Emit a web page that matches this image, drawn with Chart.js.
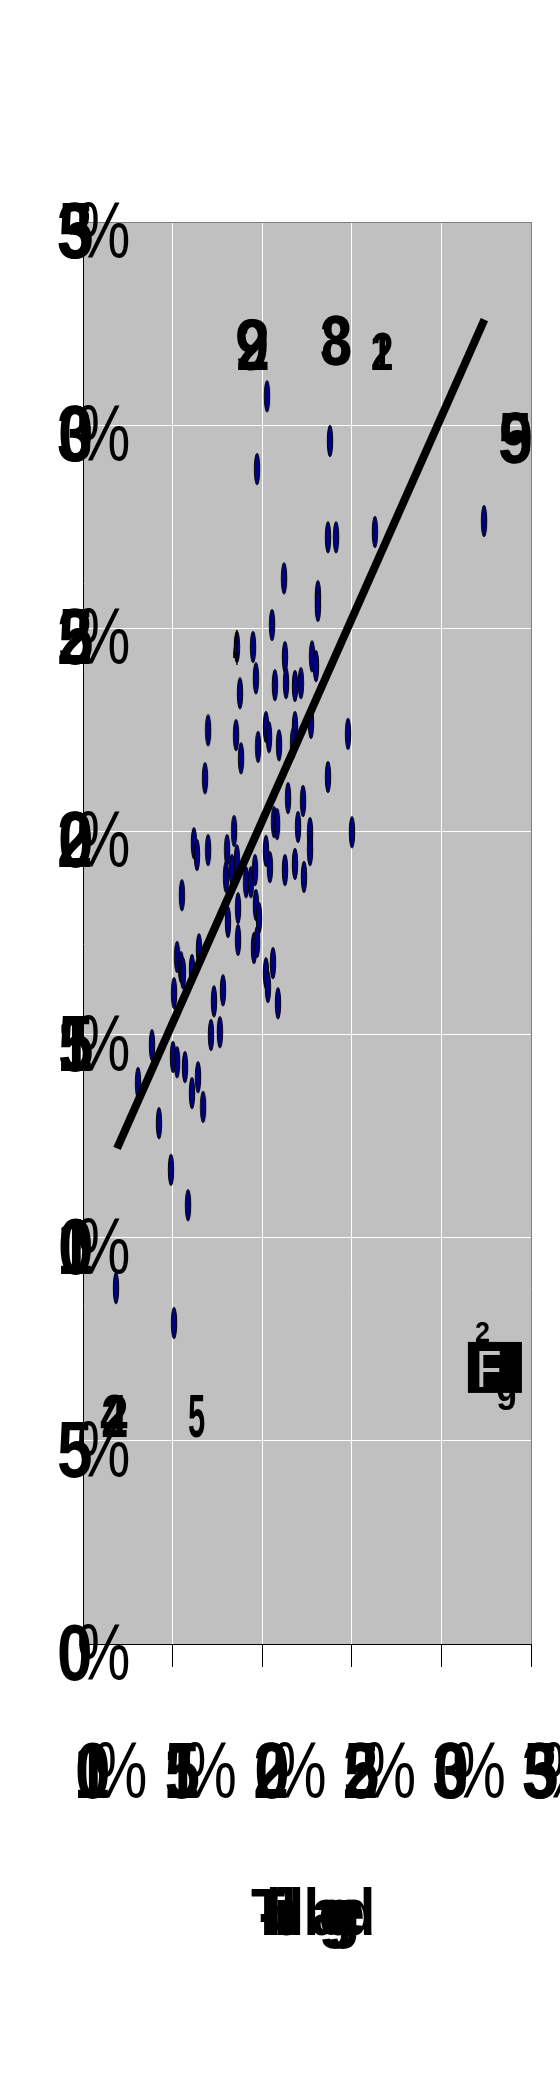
<!DOCTYPE html>
<html>
<head>
<meta charset="utf-8">
<script src="https://cdn.jsdelivr.net/npm/chart.js@4.4.1/dist/chart.umd.min.js"></script>
<style>
  body { margin: 0; background: #fff; }
  canvas { display: block; }
</style>
</head>
<body>
<canvas id="chart" width="560" height="2100" style="width:560px;height:2100px"></canvas>
<script>
// tick labels
const xTicks = ['10%', '15%', '20%', '25%', '30%', '35%'];
const yTicks = ['0%', '5%', '10%', '15%', '20%', '25%', '30%', '35%'];
const xTitle = 'T-bill lagged';

// scatter points (x %, y %)
const xVals = [20.27, 19.71, 23.78, 23.67, 24.12, 26.29, 32.38, 21.22, 20.55, 19.49,
  18.59, 21.27, 19.65, 20.71, 21.33, 18.76, 16.98, 20.21, 18.54, 20.38,
  20.94, 21.83, 21.72, 19.77, 18.82, 16.81, 21.44, 20.66, 20.83, 22.00,
  16.19, 16.36, 16.98, 18.43, 18.04, 17.98, 18.31, 18.59, 19.10, 19.37,
  19.60, 20.21, 20.43, 21.27, 21.83, 22.33, 22.67, 22.67, 25.01, 15.52,
  18.09, 18.65, 18.65, 19.65, 19.82, 19.54, 19.71, 15.25, 15.47, 15.58,
  16.08, 16.47, 15.08, 17.81, 17.31, 20.21, 20.32, 20.60, 20.88, 17.14,
  17.64, 13.85, 15.02, 15.25, 15.69, 16.42, 16.08, 16.70, 13.07, 14.24,
  14.91, 15.86, 11.84, 15.08, 23.11, 23.11, 22.78, 23.00, 21.83, 22.16,
  22.72, 23.67, 24.79, 22.28];
const yVals = [30.71, 28.92, 29.61, 27.24, 27.24, 27.37, 27.64, 26.23, 25.08, 24.54,
  24.54, 24.29, 23.77, 23.60, 23.65, 23.40, 22.49, 22.57, 22.37, 22.32,
  22.12, 22.57, 22.17, 22.08, 21.80, 21.31, 20.82, 20.23, 20.18, 20.11,
  19.71, 19.42, 19.54, 20.01, 19.54, 18.88, 19.05, 19.29, 18.75, 18.75,
  19.05, 19.52, 19.12, 19.05, 19.20, 18.88, 19.96, 19.54, 19.98, 18.43,
  17.77, 18.11, 17.33, 18.19, 17.87, 17.13, 17.28, 16.91, 16.66, 16.51,
  16.59, 17.10, 16.02, 16.09, 15.82, 16.51, 16.17, 16.76, 15.77, 14.99,
  15.06, 14.74, 14.45, 14.32, 14.20, 13.95, 13.56, 13.22, 13.81, 12.82,
  11.67, 10.80, 8.76, 7.90, 25.79, 25.55, 24.31, 24.07, 23.58, 23.65,
  22.67, 21.34, 22.40, 20.75];

// fitted line end points
const fitX = [11.9, 32.4];
const fitY = [12.2, 32.6];

// point labels (left edge / baseline, in data units)
const labelText = ['92', '38', '12', '59', '4', '42', '5', '2', 'Fg'];
const labelX = [18.48, 23.23, 26.02, 33.16, 18.37, 10.95, 15.86, 31.88, 31.48];
const labelY = [31.36, 31.48, 31.36, 29.07, 24.10, 5.09, 5.09, 7.43, 6.18];
const labelSize = [72, 70, 54, 72, 50, 62, 62, 30, 62];
const labelSx = [0.85, 0.8, 0.75, 0.85, 0.2, 0.8, 0.5, 0.9, 0.8];

const points = xVals.map((x, i) => ({x: x, y: yVals[i]}));
const fitLine = fitX.map((x, i) => ({x: x, y: fitY[i]}));

// small upright ellipse used as marker
const marker = document.createElement('canvas');
marker.width = 8;
marker.height = 34;
{
  const m = marker.getContext('2d');
  m.beginPath();
  m.ellipse(4, 17, 2.7, 15.8, 0, 0, Math.PI * 2);
  m.fillStyle = '#000080';
  m.fill();
  m.lineWidth = 1;
  m.strokeStyle = '#000';
  m.stroke();
}

const FONT = '"Liberation Sans", Arial, sans-serif';

function stackText(ctx, text, x, y, size, step, sx, weight) {
  ctx.font = (weight || 'normal') + ' ' + size + 'px ' + FONT;
  ctx.textAlign = 'left';
  ctx.textBaseline = 'alphabetic';
  for (let i = 0; i < text.length; i++) {
    ctx.save();
    ctx.translate(x + i * step, y);
    ctx.scale(sx, 1);
    ctx.fillText(text[i], 0, 0);
    ctx.restore();
  }
}

function tickText(ctx, label, x, y) {
  stackText(ctx, label.replace('%', ''), x, y, 80, 1, 0.8, 'bold');
  stackText(ctx, '%', x + 20, y, 80, 0, 0.75);
}

const framePlugin = {
  id: 'frame',
  beforeDraw(chart) {
    const {ctx, chartArea: a} = chart;
    ctx.save();
    ctx.fillStyle = '#c0c0c0';
    ctx.fillRect(a.left, a.top, a.right - a.left, a.bottom - a.top);
    ctx.restore();
  },
  afterDatasetsDraw(chart) {
    const {ctx, chartArea: a, scales} = chart;
    ctx.save();
    ctx.beginPath();
    ctx.rect(a.left, a.top, a.right - a.left, a.bottom - a.top);
    ctx.clip();
    ctx.fillStyle = '#000';
    labelText.forEach((t, i) => {
      const px = scales.x.getPixelForValue(labelX[i]);
      const py = scales.y.getPixelForValue(labelY[i]);
      if (t === 'Fg') {
        ctx.fillStyle = '#000';
        ctx.fillRect(px, py - 51, 54, 51);
        ctx.fillStyle = '#c0c0c0';
        stackText(ctx, 'F', px + 8, py - 6, 52, 0, 0.8);
        ctx.fillStyle = '#000';
        stackText(ctx, 'g', px + 28, py + 8, 44, 0, 0.8, 'bold');
        return;
      }
      stackText(ctx, t, px, py, labelSize[i], 1, labelSx[i], 'bold');
    });
    ctx.restore();
  },
  afterDraw(chart) {
    const {ctx, chartArea: a, scales} = chart;
    ctx.save();
    // plot frame
    ctx.lineWidth = 1;
    ctx.strokeStyle = '#808080';
    ctx.beginPath();
    ctx.moveTo(a.left, a.top + 0.5);
    ctx.lineTo(a.right + 0.5, a.top + 0.5);
    ctx.lineTo(a.right + 0.5, a.bottom);
    ctx.stroke();
    ctx.strokeStyle = '#000';
    ctx.beginPath();
    ctx.moveTo(a.left + 0.5, a.top);
    ctx.lineTo(a.left + 0.5, a.bottom + 23);
    ctx.moveTo(a.left - 4, a.bottom + 0.5);
    ctx.lineTo(a.right + 1, a.bottom + 0.5);
    ctx.stroke();

    // tick labels
    ctx.fillStyle = '#000';
    yTicks.forEach((t, i) => {
      const py = scales.y.getPixelForValue(i * 5);
      tickText(ctx, t, 57, py + 36);
    });
    xTicks.forEach((t, i) => {
      const px = scales.x.getPixelForValue(10 + i * 5);
      tickText(ctx, t, px - 9, 1798);
    });

    // axis title
    const cx = (a.left + a.right) / 2;
    stackText(ctx, xTitle, cx - 56, 1935, 66, 7.5, 0.85, 'bold');
    ctx.restore();
  }
};

new Chart(document.getElementById('chart'), {
  type: 'scatter',
  data: {
    datasets: [
      {
        type: 'line',
        data: fitLine,
        borderColor: '#000',
        borderWidth: 8,
        pointRadius: 0,
        fill: false,
        order: 0
      },
      {
        data: points,
        pointStyle: marker,
        pointRadius: 16,
        order: 1
      }
    ]
  },
  options: {
    responsive: false,
    animation: false,
    events: [],
    layout: { padding: { top: 222, right: 29, left: 0, bottom: 0 } },
    plugins: {
      legend: { display: false },
      tooltip: { enabled: false }
    },
    scales: {
      x: {
        type: 'linear',
        min: 10,
        max: 35,
        ticks: { display: false, stepSize: 5 },
        grid: { color: '#ffffff', lineWidth: 1, tickColor: '#000', tickLength: 23 },
        border: { display: false },
        afterFit(s) { s.height = 456; }
      },
      y: {
        type: 'linear',
        min: 0,
        max: 35,
        ticks: { display: false, stepSize: 5 },
        grid: { color: '#ffffff', lineWidth: 1, tickColor: '#000', tickLength: 4 },
        border: { display: false },
        afterFit(s) { s.width = 83; }
      }
    }
  },
  plugins: [framePlugin]
});
</script>
</body>
</html>
